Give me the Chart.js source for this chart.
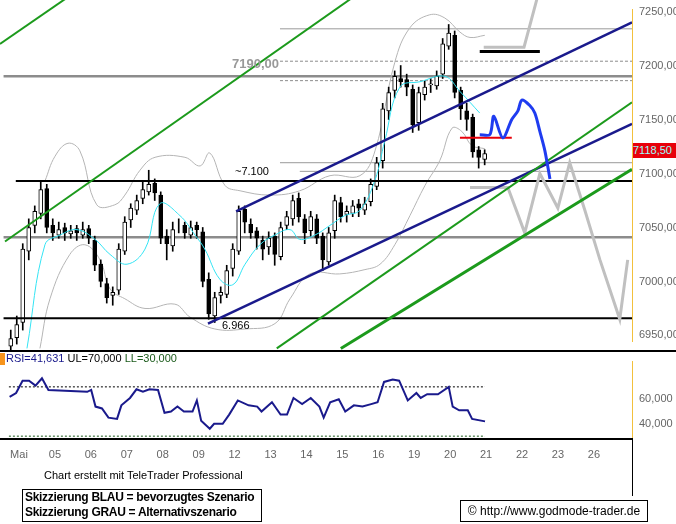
<!DOCTYPE html>
<html><head><meta charset="utf-8">
<script src="https://cdn.jsdelivr.net/npm/chart.js@4"></script>
<style>
body{margin:0;background:#fff;width:676px;height:524px;position:relative;overflow:hidden;font-family:"Liberation Sans",Arial,sans-serif}
.w{position:absolute;left:0}
.t{position:absolute;white-space:nowrap}
</style></head><body>
<div class="w" style="top:0;width:676px;height:351px"><canvas id="main" width="676" height="351"></canvas></div>
<div class="w" style="top:352px;width:676px;height:118px"><canvas id="rsi" width="676" height="118"></canvas></div>
<div style="position:absolute;left:0;top:350px;width:676px;height:2px;background:#000"></div>
<div style="position:absolute;left:0;top:438px;width:632px;height:2px;background:#000"></div>
<div style="position:absolute;left:632px;top:438px;width:1px;height:58px;background:#000"></div>
<div style="position:absolute;left:0;top:353px;width:5px;height:12px;background:#f7941d"></div>
<div class="t" style="left:6px;top:352px;font-size:11px;"><span style="color:#1a1a8c">RSI=41,631</span> <span style="color:#000">UL=70,000</span> <span style="color:#1a5a1a">LL=30,000</span></div>
<div class="t" style="left:232px;top:56px;font-size:13px;font-weight:bold;color:#999">7190,00</div>
<div class="t" style="left:235px;top:165px;font-size:11px;color:#000">~7.100</div>
<div class="t" style="left:222px;top:319px;font-size:11px;color:#000">6.966</div>
<div class="t" style="left:633px;top:143px;width:43px;height:15px;background:#e8000a;color:#9ff;font-size:11px;line-height:15px">7118,50</div>
<div class="t" style="left:44px;top:469px;font-size:11px;color:#000">Chart erstellt mit TeleTrader Professional</div>
<div class="t" style="left:22px;top:489px;width:236px;height:31px;border:1px solid #000;font-size:12px;font-weight:bold;line-height:15px;padding-left:2px;letter-spacing:-0.3px">Skizzierung BLAU = bevorzugtes Szenario<br>Skizzierung GRAU = Alternativszenario</div>
<div class="t" style="left:460px;top:500px;width:186px;height:20px;border:1px solid #000;font-size:12px;line-height:20px;text-align:center">© http://www.godmode-trader.de</div>
<script>
const dayLabels=["Mai","05","06","07","08","09","12","13","14","15","16","19","20","21","22","23","26"];
const opens=[6940,6948,6962,7028,7052,7063,7086,7052,7043,7050,7044,7049,7043,7049,7038,7016,6998,6987,6992,7028,7057,7066,7077,7083,7091,7080,7042,7033,7050,7052,7043,7052,7046,7002,6968,6987,6988,7012,7028,7067,7053,7047,7038,7032,7042,7023,7052,7058,7077,7058,7047,7058,7042,7018,7047,7073,7062,7063,7072,7066,7074,7088,7112,7158,7177,7188,7187,7178,7147,7173,7182,7181,7192,7218,7228,7177,7158,7152,7122,7113];
const closes=[6947,6960,7030,7050,7065,7085,7050,7045,7048,7045,7047,7045,7048,7040,7015,7000,6985,6990,7030,7055,7068,7075,7085,7090,7082,7040,7035,7048,7050,7045,7050,7048,7000,6970,6985,6990,7010,7030,7065,7055,7045,7040,7030,7040,7025,7050,7060,7075,7060,7045,7060,7040,7020,7045,7075,7060,7065,7070,7068,7072,7090,7110,7160,7175,7190,7185,7180,7145,7175,7180,7183,7190,7220,7230,7175,7160,7150,7120,7115,7118.5];
const highs=[6955,6968,7035,7058,7070,7093,7090,7058,7055,7054,7052,7052,7055,7052,7042,7020,7003,6995,7035,7060,7072,7080,7092,7103,7095,7083,7048,7055,7058,7055,7056,7055,7050,7008,6990,6995,7015,7035,7070,7070,7058,7050,7042,7046,7045,7055,7065,7080,7082,7062,7065,7062,7045,7050,7080,7078,7070,7075,7076,7078,7095,7115,7165,7180,7195,7200,7192,7182,7180,7186,7188,7195,7225,7238,7232,7180,7165,7155,7125,7122];
const lows=[6935,6942,6955,7020,7045,7058,7045,7038,7040,7038,7040,7038,7040,7035,7010,6995,6980,6978,6988,7025,7050,7062,7072,7080,7075,7035,7020,7028,7045,7040,7040,7040,6995,6965,6962,6980,6985,7005,7025,7045,7040,7030,7020,7025,7015,7020,7048,7052,7055,7035,7042,7035,7010,7015,7040,7055,7055,7060,7060,7062,7070,7085,7105,7150,7170,7180,7172,7138,7140,7168,7175,7178,7188,7215,7170,7150,7140,7115,7105,7108];
const upperBand=[[0.75,7093],[1.03,7116],[1.39,7128],[1.72,7121],[2.19,7071],[2.69,7071],[2.97,7080],[3.39,7103],[3.81,7115],[4.64,7115],[5.06,7107],[5.33,7119],[5.75,7089],[6.17,7084],[7.0,7080],[7.83,7084],[8.67,7098],[9.5,7098],[9.92,7121],[10.47,7203],[10.89,7235],[11.44,7247],[11.86,7244],[12.28,7231],[12.56,7226],[12.97,7228]];
const lowerBand=[[0.61,6938],[0.89,6984],[1.44,7025],[1.86,7034],[2.28,7020],[2.56,6993],[2.97,6984],[3.53,6975],[4.36,6979],[4.78,6967],[5.47,6956],[6.31,6956],[7.14,6961],[7.56,6984],[8.11,7007],[8.94,7007],[9.64,7011],[10.06,7016],[10.47,7034],[10.89,7061],[11.31,7089],[11.72,7112],[12.06,7142],[12.33,7139],[12.61,7126],[12.97,7123]];
const movAvg=[[0.25,6938],[0.75,7034],[1.17,7043],[1.64,7048],[2.14,7039],[2.56,7025],[3.03,7016],[3.53,7030],[3.94,7072],[4.5,7061],[4.92,7043],[5.19,7030],[5.61,7002],[5.97,6997],[6.31,7016],[6.72,7034],[7.14,7043],[7.56,7048],[7.83,7039],[8.25,7043],[8.67,7052],[9.08,7061],[9.5,7066],[9.92,7094],[10.19,7130],[10.61,7180],[11.17,7185],[11.86,7190],[12.28,7176],[12.83,7156]];
const greenLines=[[[-0.5,7220],[1.72,7271]],[[-0.36,7037],[9.64,7271]],[[7.19,6938],[17.06,7166]]];
const greenThick=[[8.97,6938],[17.06,7104]];
const blueLines=[[[6.06,7065],[17.06,7240]],[[5.28,6961],[17.06,7146]]];
const blackLevels=[[[-0.06,7093],[17.1,7093]],[[-0.4,6966],[17.1,6966]]];
const grayThick=[[[-0.4,7190],[17.1,7190]],[[-0.4,7041],[17.1,7041]]];
const grayThin=[[[7.28,7234],[17.1,7234]],[[7.28,7110],[17.1,7110]],[[7.83,7102],[17.1,7102]]];
const grayDashed=[[[7.28,7204],[17.1,7204]],[[7.28,7186],[17.1,7186]]];
const blackBar=[[12.83,7213],[14.5,7213]];
const redBar=[[12.28,7133],[13.72,7133]];
const blueScenario=[[12.83,7136],[13.11,7136],[13.22,7153],[13.47,7133],[13.72,7150],[13.89,7158],[14.0,7168],[14.22,7163],[14.36,7156],[14.5,7139],[14.64,7121],[14.78,7095]];
const grayScenario=[[12.56,7087],[13.61,7087],[14.08,7045],[14.5,7100],[15.0,7068],[15.33,7110],[15.75,7066],[16.17,7020],[16.72,6965],[16.94,7020]];
const grayScenarioTop=[[12.94,7217],[14.06,7217],[14.39,7258],[14.5,7272]];
const rsiValues=[[-0.26,61.8],[-0.08,65],[0.10,75],[0.28,75],[0.46,71],[0.64,77],[0.82,67.5],[1.90,66],[2.01,67.5],[2.13,54],[2.31,52.5],[2.49,45],[2.73,44],[2.85,55],[3.09,61],[3.27,68],[3.45,66],[3.63,68],[3.87,67.5],[4.05,49],[4.23,50],[4.41,54],[4.59,50],[4.83,50],[4.95,59],[5.07,42.5],[5.31,36],[5.43,40],[5.67,40],[5.85,47.5],[6.09,59],[6.39,55],[6.63,54],[6.75,50],[7.04,57.5],[7.28,47.5],[7.46,47.5],[7.64,61],[7.88,56],[8.12,61],[8.36,54],[8.48,45],[8.66,57.5],[8.90,60],[9.08,50],[9.32,55],[9.56,54],[9.80,56],[9.98,57.5],[10.16,74],[10.40,76],[10.58,75],[10.82,59],[11.06,65],[11.18,61],[11.36,64],[11.66,64],[11.96,70],[12.07,54],[12.25,51],[12.49,51],[12.61,44],[12.97,42]];
const rsiUL=70, rsiLL=30;
const priceTicks=[6950,7000,7050,7100,7150,7200,7250];
const rsiTicks=[40,60];

const X0=-0.36,X1=17.06;
const CLIP={left:10,top:12,right:0,bottom:12};
const pts=a=>a.map(p=>({x:p[0],y:p[1]}));
const candleT=closes.map((c,i)=>-0.2+i/6);
function line(data,color,w,extra){return Object.assign({type:'line',data:pts(data),borderColor:color,borderWidth:w,pointRadius:0,fill:false,tension:0,order:1,clip:CLIP},extra||{});}
const ds=[];
ds.push(line(upperBand,'#b5b5b5',1,{tension:0.4,order:5}));
ds.push(line(lowerBand,'#b5b5b5',1,{tension:0.4,order:5}));
grayThick.forEach(l=>ds.push(line(l,'#8c8c8c',2.5,{order:6})));
grayThin.forEach(l=>ds.push(line(l,'#9a9a9a',1,{order:6})));
grayDashed.forEach(l=>ds.push(line(l,'#8c8c8c',1,{borderDash:[3,2],order:6})));
blackLevels.forEach(l=>ds.push(line(l,'#000',2,{order:2})));
ds.push({type:'bar',data:candleT.map((t,i)=>({x:t,y:[lows[i],highs[i]]})),backgroundColor:'#000',barThickness:1,grouped:false,order:4,clip:CLIP});
ds.push({type:'bar',data:candleT.map((t,i)=>({x:t,y:[opens[i],closes[i]]})),backgroundColor:closes.map((c,i)=>c>=opens[i]?'#fff':'#000'),borderColor:'#000',borderWidth:1,borderSkipped:false,barThickness:4,grouped:false,order:3,clip:CLIP});
ds.push(line(movAvg,'#33e4f4',1,{tension:0.4,order:2}));
greenLines.forEach(l=>ds.push(line(l,'#1c9a1c',2)));
ds.push(line(greenThick,'#1c9a1c',3));
blueLines.forEach(l=>ds.push(line(l,'#1a1a8c',2.5)));
ds.push(line(blackBar,'#000',3));
ds.push(line(redBar,'#e8000a',2));
ds.push(line(grayScenario,'#c0c0c0',3));
ds.push(line(grayScenarioTop,'#c0c0c0',3));
ds.push(line(blueScenario,'#1f3cf0',3,{tension:0.3,order:0}));

new Chart(document.getElementById('main'),{
 type:'bar',data:{datasets:ds},
 options:{responsive:false,animation:false,events:[],
  layout:{padding:{left:5,top:0,bottom:0,right:0}},
  plugins:{legend:{display:false},tooltip:{enabled:false}},
  scales:{
   x:{type:'linear',min:X0,max:X1,display:false,offset:false},
   y:{position:'right',min:6944.5,max:7251.8,
      afterFit:s=>{s.width=44},
      afterBuildTicks:s=>{s.ticks=priceTicks.map(v=>({value:v}))},
      grid:{display:false,drawTicks:true,tickLength:4,tickColor:'#000'},
      border:{color:'#f2c03c',width:1},
      ticks:{color:'#666',font:{size:11,family:'Liberation Sans'},padding:3,callback:v=>v.toFixed(2).replace('.',',')}}
  }}
});

new Chart(document.getElementById('rsi'),{
 type:'line',
 data:{datasets:[
  {data:pts(rsiValues),borderColor:'#1a1a8c',borderWidth:2,pointRadius:0,tension:0},
  {data:[{x:-0.28,y:rsiUL},{x:12.97,y:rsiUL}],borderColor:'#000',borderWidth:1,borderDash:[2,2],pointRadius:0},
  {data:[{x:-0.28,y:rsiLL},{x:12.97,y:rsiLL}],borderColor:'#1a5a1a',borderWidth:1,borderDash:[2,2],pointRadius:0}
 ]},
 options:{responsive:false,animation:false,events:[],
  layout:{padding:{left:5,top:1,bottom:0,right:0}},
  plugins:{legend:{display:false},tooltip:{enabled:false}},
  scales:{
   x:{type:'linear',min:X0,max:X1,offset:false,
      afterFit:s=>{s.height=32},
      afterBuildTicks:s=>{s.ticks=dayLabels.map((d,i)=>({value:i}))},
      grid:{display:false,drawTicks:false},border:{display:false},
      ticks:{color:'#666',font:{size:11,family:'Liberation Sans'},padding:10,maxRotation:0,autoSkip:false,callback:v=>dayLabels[v]}},
   y:{position:'right',min:28.5,max:90.5,
      afterFit:s=>{s.width=44},
      afterBuildTicks:s=>{s.ticks=rsiTicks.map(v=>({value:v}))},
      grid:{display:false,drawTicks:true,tickLength:4,tickColor:'#000'},
      border:{color:'#f2c03c',width:1},
      ticks:{color:'#666',font:{size:11,family:'Liberation Sans'},padding:3,callback:v=>v.toFixed(3).replace('.',',')}}
  }}
});
</script></body></html>
